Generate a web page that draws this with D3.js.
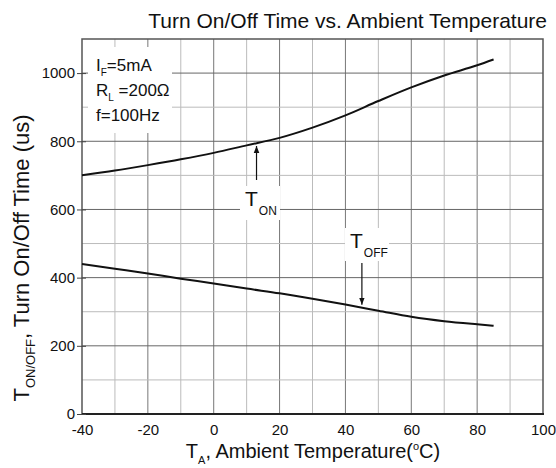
<!DOCTYPE html>
<html>
  <head>
    <meta charset="utf-8">
    <title>Turn On/Off Time vs. Ambient Temperature</title>
    <script src="https://d3js.org/d3.v7.min.js"></script>
    <style>
      body { margin: 0; background: #fff; }
      text { font-family: "Liberation Sans", Arial, sans-serif; fill: #111; }
    </style>
  </head>
  <body>
    <div id="vis"></div>
    <script>
        const width = 556;
        const height = 468;

        // chart data
        const temps = [-40, -30, -20, -10, 0, 10, 20, 30, 40, 50, 60, 70, 80, 85];
        const tOn   = [700, 714, 730, 747, 766, 788, 810, 840, 876, 918, 958, 993, 1023, 1040];
        const tOff  = [440, 426, 412, 397, 383, 368, 354, 338, 321, 303, 285, 272, 263, 259];

        const xTicks = [-40, -20, 0, 20, 40, 60, 80, 100];
        const yTicks = [0, 200, 400, 600, 800, 1000];
        const conditions = [["I", "F", "=5mA"], ["R", "L", " =200\u03A9"], ["f", "", "=100Hz"]];

        const plotLeft = 82, plotRight = 543, plotTop = 39, plotBottom = 414;

        let vis = d3.select('#vis')
                    .append('svg')
                    .attr('width', width)
                    .attr('height', height);

        const x = d3.scaleLinear().domain([-40, 100]).range([plotLeft, plotRight]);
        const y = d3.scaleLinear().domain([0, 1100]).range([plotBottom, plotTop]);

        // grid lines every 10 C / 100 us, darker every 20 C / 200 us
        const grid = vis.append("g");
        grid.selectAll("line.v")
            .data(d3.range(-30, 100, 10))
            .enter()
            .append("line")
            .attr("x1", d => x(d)).attr("x2", d => x(d))
            .attr("y1", plotTop).attr("y2", plotBottom)
            .attr("stroke", d => d % 20 == 0 ? "#777" : "#bbb")
            .attr("stroke-width", 1);
        grid.selectAll("line.h")
            .data(d3.range(100, 1100, 100))
            .enter()
            .append("line")
            .attr("x1", plotLeft).attr("x2", plotRight)
            .attr("y1", d => y(d)).attr("y2", d => y(d))
            .attr("stroke", d => d % 200 == 0 ? "#666" : "#bbb")
            .attr("stroke-width", 1);

        // white boxes behind the text in the plot
        vis.append("rect").attr("x", 88).attr("y", 47).attr("width", 84).attr("height", 86).attr("fill", "#fff");
        vis.append("rect").attr("x", 240).attr("y", 186).attr("width", 40).attr("height", 34).attr("fill", "#fff");
        vis.append("rect").attr("x", 345).attr("y", 228).attr("width", 44).attr("height", 33).attr("fill", "#fff");

        // plot frame
        vis.append("rect")
           .attr("x", plotLeft).attr("y", plotTop)
           .attr("width", plotRight - plotLeft).attr("height", plotBottom - plotTop)
           .attr("fill", "none").attr("stroke", "#555").attr("stroke-width", 1.5);
        vis.append("line")
           .attr("x1", plotLeft).attr("x2", plotRight + 1)
           .attr("y1", plotBottom).attr("y2", plotBottom)
           .attr("stroke", "#222").attr("stroke-width", 2);

        // axes
        const xAxis = vis.append("g")
           .attr("transform", `translate(0,${plotBottom})`)
           .call(d3.axisBottom(x).tickValues(xTicks).tickFormat(d => String(d)).tickSize(0).tickPadding(10));
        const yAxis = vis.append("g")
           .attr("transform", `translate(${plotLeft},0)`)
           .call(d3.axisLeft(y).tickValues(yTicks).tickFormat(d => String(d)).tickSize(5).tickPadding(2));
        [xAxis, yAxis].forEach(a => {
          a.select(".domain").remove();
          a.selectAll("text").attr("font-size", 15).attr("fill", "#111")
           .style("font-family", '"Liberation Sans", Arial, sans-serif');
          a.selectAll("line").attr("stroke", "#444");
        });
        yAxis.selectAll(".tick line").attr("x2", 4).attr("x1", -5);

        // curves
        const line = d3.line()
                       .x((d, i) => x(temps[i]))
                       .y(d => y(d))
                       .curve(d3.curveMonotoneX);
        [tOn, tOff].forEach(s => {
          vis.append("path")
             .datum(s)
             .attr("d", line)
             .attr("fill", "none")
             .attr("stroke", "#111")
             .attr("stroke-width", 2);
        });

        // arrows pointing at the curves
        vis.append("defs").append("marker")
           .attr("id", "head")
           .attr("viewBox", "0 0 10 10")
           .attr("refX", 10).attr("refY", 5)
           .attr("markerWidth", 7).attr("markerHeight", 7)
           .attr("markerUnits", "userSpaceOnUse")
           .attr("orient", "auto")
           .append("path").attr("d", "M0,1 L10,5 L0,9 Z").attr("fill", "#111");
        vis.append("line")
           .attr("x1", x(13)).attr("x2", x(13))
           .attr("y1", 180).attr("y2", y(795) + 3)
           .attr("stroke", "#111").attr("stroke-width", 1.2)
           .attr("marker-end", "url(#head)");
        vis.append("line")
           .attr("x1", x(45)).attr("x2", x(45))
           .attr("y1", 263).attr("y2", y(312) - 3)
           .attr("stroke", "#111").attr("stroke-width", 1.2)
           .attr("marker-end", "url(#head)");

        // curve labels
        function subLabel(px, py, main, sub, size, subSize) {
          const t = vis.append("text").attr("x", px).attr("y", py).attr("font-size", size);
          t.append("tspan").text(main);
          t.append("tspan").attr("font-size", subSize).attr("dx", 1).attr("dy", 9).text(sub);
        }
        subLabel(245, 206, "T", "ON", 21, 12);
        subLabel(350, 248, "T", "OFF", 21, 12);

        // test conditions
        conditions.forEach((c, i) => {
          const t = vis.append("text").attr("x", 96).attr("y", 71 + i * 25).attr("font-size", 17);
          t.append("tspan").text(c[0]);
          if (c[1]) {
            t.append("tspan").attr("font-size", 10).attr("dy", 5).text(c[1]);
            t.append("tspan").attr("dy", -5).text(c[2]);
          } else {
            t.append("tspan").text(c[2]);
          }
        });

        // title
        vis.append("text")
           .attr("x", 547).attr("y", 28)
           .attr("text-anchor", "end")
           .attr("font-size", 21)
           .text("Turn On/Off Time vs. Ambient Temperature");

        // x label
        const xl = vis.append("text")
           .attr("x", 313).attr("y", 458)
           .attr("text-anchor", "middle")
           .attr("font-size", 20);
        xl.append("tspan").text("T");
        xl.append("tspan").attr("font-size", 11).attr("dy", 6).text("A");
        xl.append("tspan").attr("dy", -6).text(", Ambient Temperature(");
        xl.append("tspan").attr("font-size", 11).attr("dy", -8).text("o");
        xl.append("tspan").attr("dy", 8).text("C)");

        // y label
        const yl = vis.append("text")
           .attr("transform", "translate(29,258) rotate(-90)")
           .attr("text-anchor", "middle")
           .attr("font-size", 22);
        yl.append("tspan").text("T");
        yl.append("tspan").attr("font-size", 13).attr("dy", 6).text("ON/OFF");
        yl.append("tspan").attr("dy", -6).text(", Turn On/Off Time (us)");
    </script>
  </body>
</html>
